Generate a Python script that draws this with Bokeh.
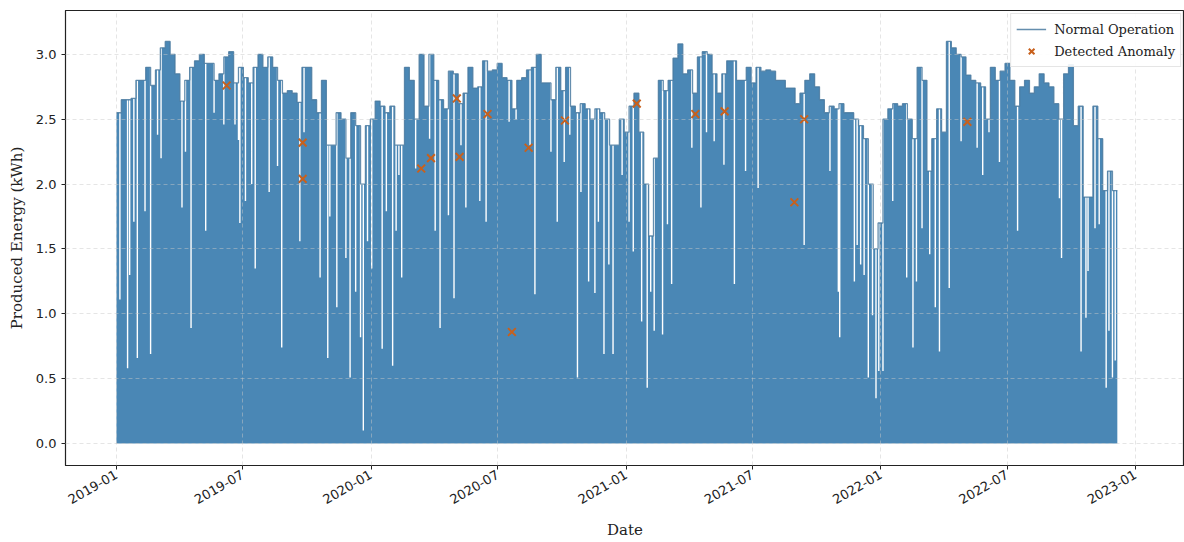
import math
import numpy as np
import pandas as pd
from bokeh.plotting import figure
from bokeh.models import (Range1d, FixedTicker, DatetimeTickFormatter, Legend, LegendItem,
                          CustomJSTickFormatter)
from bokeh.embed import file_html
from bokeh.resources import INLINE

# ---------------- data ----------------
series_start = "2019-01-01"

# typical daily peak energy (kWh) per week, consecutive weeks from 2019-01-01
weekly_peak_1 = [2.55, 2.65, 2.65, 2.66, 2.8, 2.8, 2.9, 2.76, 2.88, 3.05, 3.1, 3.0, 2.85, 2.64, 2.8, 2.9, 2.95, 3.0, 2.93, 2.93,
                 2.8, 2.85, 2.98, 3.02, 2.78, 2.9, 2.82, 2.78, 2.9, 3.0, 2.9, 2.98, 2.9, 2.8, 2.7, 2.72, 2.7, 2.63, 2.9, 2.9]
weekly_peak_2 = [2.65, 2.55, 2.8, 2.3, 2.3, 2.55, 2.5, 2.2, 2.55, 2.45, 2.0, 2.45, 2.5, 2.64, 2.6, 2.55, 2.6, 2.3, 2.3, 2.9,
                 2.8, 2.5, 3.0, 2.6, 3.0, 2.8, 2.65, 2.58, 2.87, 2.85, 2.62, 2.7, 2.9, 2.74, 2.75, 2.95, 2.87, 2.88, 2.93, 2.82, 2.8]
weekly_peak_3 = [2.58, 2.8, 2.82, 2.88, 2.9, 3.0, 2.78, 2.78, 2.65, 2.9, 2.72, 2.9, 2.6, 2.55, 2.62, 2.58, 2.5, 2.58, 2.55, 2.5,
                 2.3, 2.3, 2.5, 2.4, 2.6, 2.7, 2.4, 2.0, 1.6, 2.2, 2.8, 2.72, 2.8, 2.97, 3.08, 2.85, 2.88, 2.7, 2.98, 3.02, 3.0]
weekly_peak_4 = [2.85, 2.7, 2.85, 2.95, 2.95, 2.8, 2.8, 2.9, 2.78, 2.9, 2.87, 2.88, 2.87, 2.8, 2.8, 2.74, 2.74, 2.62, 2.7, 2.8,
                 2.85, 2.75, 2.65, 2.55, 2.6, 2.58, 2.62, 2.55, 2.55, 2.5, 2.45, 2.35, 2.0, 1.5, 1.7, 2.5, 2.58, 2.62, 2.6, 2.62]
weekly_peak_5 = [2.5, 2.35, 2.9, 2.8, 2.1, 2.35, 2.58, 2.4, 3.1, 3.05, 3.0, 2.98, 2.84, 2.8, 2.78, 2.75, 2.5, 2.9, 2.8, 2.87, 2.93,
                 2.8, 2.6, 2.75, 2.8, 2.7, 2.75, 2.85, 2.78, 2.75, 2.62, 2.5, 2.85, 2.92, 2.45, 2.6, 1.9, 1.9, 2.6, 2.35, 1.95, 2.1, 1.95]

# low-production days (day number since 2019-01-01, peak kWh)
dip_day = [4, 15, 18, 24, 29, 40, 48, 58, 63, 93, 98, 106, 127,
           139, 153, 169, 174, 176, 184, 193, 198, 218, 230, 236, 262, 268,
           291, 302, 305, 315, 328, 334, 342, 349, 353, 359, 365, 380, 386, 395, 400, 404, 408,
           428, 448, 456, 463, 475, 483, 493, 500, 520, 529, 562,
           572, 592, 599, 622, 631, 641, 649, 660, 665, 676, 685, 690, 698, 705,
           711, 724, 734, 740, 752, 760, 765, 770, 782, 789, 795, 824, 837, 845,
           856, 870, 885, 901, 919, 985,
           1022, 1034, 1036, 1057, 1061, 1066, 1071, 1077, 1083, 1088, 1092, 1098, 1112, 1132,
           1141, 1146, 1154, 1165, 1173, 1179, 1193, 1210, 1233, 1241, 1250, 1265,
           1291, 1351, 1354, 1382, 1389, 1392, 1402, 1408, 1418, 1422, 1427, 1431]
dip_value = [1.11, 0.58, 1.30, 1.71, 0.66, 1.79, 0.69, 2.38, 2.2, 1.82, 2.25, 0.89, 1.64,
             2.55, 2.46, 2.46, 2.34, 1.70, 1.87, 2.0, 1.35, 1.94, 2.14, 0.74, 1.56, 2.4,
             1.28, 0.66, 1.75, 1.05, 1.43, 0.51, 1.17, 0.82, 0.10, 1.56, 1.35, 0.73, 1.79, 0.60, 1.64, 2.07, 1.28,
             2.12, 2.35, 1.64, 0.89, 1.76, 1.12, 2.3, 1.82, 1.87, 1.71, 2.48,
             2.5, 2.3, 1.15, 2.25, 1.71, 2.17, 2.38, 0.51, 1.94, 1.25, 1.16, 1.71, 0.69, 1.38,
             0.69, 2.07, 1.71, 1.48, 0.94, 0.43, 1.17, 0.87, 0.84, 1.69, 1.23, 2.28, 1.82, 2.4,
             2.33, 2.15, 1.23, 2.1, 1.97, 1.53,
             2.1, 1.17, 0.82, 1.25, 1.53, 1.38, 1.3, 0.51, 0.99, 0.35, 0.56, 0.56, 1.87, 1.28,
             0.74, 1.25, 1.66, 1.46, 1.05, 0.71, 1.2, 2.33, 2.28, 2.07, 2.4, 2.17,
             1.64, 1.89, 1.43, 0.71, 0.97, 1.33, 1.66, 1.69, 0.43, 0.87, 0.51, 0.64]

anomaly_dates = ["2019-06-08", "2019-09-25", "2019-09-25", "2020-03-13", "2020-03-27", "2020-05-03",
                 "2020-05-07", "2020-06-16", "2020-07-21", "2020-08-14", "2020-10-05", "2021-01-16",
                 "2021-04-10", "2021-05-22", "2021-08-30", "2021-09-13", "2022-05-05"]
anomaly_values = [2.76, 2.32, 2.04, 2.12, 2.2, 2.66, 2.21, 2.54, 0.86, 2.28, 2.49, 2.62,
                  2.54, 2.56, 1.86, 2.5, 2.48]

tick_months = ["2019-01", "2019-07", "2020-01", "2020-07", "2021-01", "2021-07", "2022-01", "2022-07", "2023-01"]
y_ticks = [0.0, 0.5, 1.0, 1.5, 2.0, 2.5, 3.0]

# ---------------- build step series ----------------
weekly = weekly_peak_1 + weekly_peak_2 + weekly_peak_3 + weekly_peak_4 + weekly_peak_5
n_days = len(weekly) * 7
DIP_WIDTH = 2  # days a dip is held (visual width)
bps = set(range(0, n_days + 1, 7))
for d in dip_day:
    bps.add(d)
    bps.add(d + DIP_WIDTH)
bps = sorted(b for b in bps if b <= n_days)
vals = []
for b in bps:
    v = weekly[min(b // 7, len(weekly) - 1)]
    for d, dv in zip(dip_day, dip_value):
        if d <= b < d + DIP_WIDTH:
            v = min(v, dv)
    vals.append(v)

t0 = pd.Timestamp(series_start)
xs = t0 + pd.to_timedelta(bps, unit="D")
env_bps = list(range(0, n_days + 1, 7))
env_x = t0 + pd.to_timedelta(env_bps, unit="D")
env_v = [weekly[min(b // 7, len(weekly) - 1)] for b in env_bps]

W, H = 1184, 542
B_LEFT, B_RIGHT, B_TOP, B_BOTTOM = 65, 0, 10, 76
px_per_day = 0.6975
frame_w = W - B_LEFT - B_RIGHT
x_start = t0 - pd.Timedelta(days=73)
x_end = x_start + pd.Timedelta(days=frame_w / px_per_day)

SERIF = "DejaVu Serif"
SANS = "DejaVu Sans"

p = figure(width=W, height=H, x_axis_type="datetime", output_backend="svg", toolbar_location=None,
           x_range=Range1d(x_start, x_end), y_range=Range1d(-0.169, 3.338),
           min_border_left=B_LEFT, min_border_right=B_RIGHT, min_border_top=B_TOP, min_border_bottom=B_BOTTOM)
p.background_fill_color = "white"
p.border_fill_color = "white"
p.outline_line_color = "#222222"
p.outline_line_width = 1.2

area = p.varea_step(x=xs, y1=np.zeros(len(vals)), y2=vals, step_mode="after",
                    fill_color="#4a87b5", fill_alpha=1.0)
env = p.step(x=env_x, y=env_v, mode="after", line_color="#4a7aa0", line_width=1.3, line_alpha=0.85)
anom = p.scatter(x=pd.to_datetime(anomaly_dates), y=anomaly_values, marker="x", size=11,
                 line_color="#c8601c", line_width=2)

# axes
p.xaxis.ticker = FixedTicker(ticks=[pd.Timestamp(m + "-01").value / 1e6 for m in tick_months])
p.xaxis.formatter = DatetimeTickFormatter(years="%Y-%m", months="%Y-%m", days="%Y-%m", hours="%Y-%m")
p.xaxis.major_label_orientation = math.pi / 6
p.yaxis.ticker = FixedTicker(ticks=y_ticks)
p.yaxis.formatter = CustomJSTickFormatter(code="return tick.toFixed(1);")

for ax in (p.xaxis[0], p.yaxis[0]):
    ax.axis_line_color = "#222222"
    ax.major_tick_line_color = "#222222"
    ax.major_tick_out = 4
    ax.major_tick_in = 0
    ax.minor_tick_line_color = None
    ax.major_label_text_font = SANS
    ax.major_label_text_font_size = "13px"
    ax.major_label_text_color = "#222222"
    ax.axis_label_text_font = SERIF
    ax.axis_label_text_font_size = "15px"
    ax.axis_label_text_font_style = "normal"
    ax.axis_label_text_color = "#222222"
p.xaxis.axis_label = "Date"
p.yaxis.axis_label = "Produced Energy (kWh)"
p.xaxis.axis_label_standoff = 10
p.yaxis.axis_label_standoff = 7
p.xaxis.major_label_standoff = 4

p.grid.grid_line_color = "#c8c8c8"
p.grid.grid_line_dash = "4 3"
p.grid.grid_line_width = 0.8
p.grid.level = "overlay"
p.grid.grid_line_alpha = 0.6

legend = Legend(items=[LegendItem(label="Normal Operation", renderers=[env]),
                       LegendItem(label="Detected Anomaly", renderers=[anom])],
                location="top_right")
legend.label_text_font = SERIF
legend.label_text_font_size = "13px"
legend.label_text_color = "#222222"
legend.border_line_color = "#cccccc"
legend.background_fill_alpha = 0.9
legend.padding = 5
legend.spacing = 2
legend.margin = 3
legend.glyph_width = 30
legend.label_standoff = 8
p.add_layout(legend)

open("out.html", "w").write(file_html(p, INLINE))
